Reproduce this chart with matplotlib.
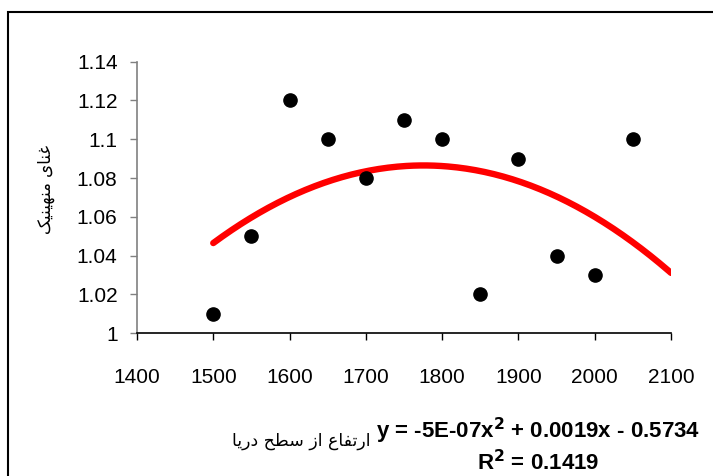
import numpy as np
import matplotlib.pyplot as plt
from matplotlib.patches import Rectangle

altitude = [1500, 1550, 1600, 1650, 1700, 1750, 1800, 1850, 1900, 1950, 2000, 2050]
richness = [1.01, 1.05, 1.12, 1.10, 1.08, 1.11, 1.10, 1.02, 1.09, 1.04, 1.03, 1.10]
x_ticks = [1400, 1500, 1600, 1700, 1800, 1900, 2000, 2100]
y_ticks = [1, 1.02, 1.04, 1.06, 1.08, 1.1, 1.12, 1.14]
y_tick_labels = ["1", "1.02", "1.04", "1.06", "1.08", "1.1", "1.12", "1.14"]
x_title = "ارتفاع از سطح دریا"
y_title = "غنای منهینیک"
equation = "y = -5E-07x$^\\mathbf{2}$ + 0.0019x - 0.5734\nR$^\\mathbf{2}$ = 0.1419"

# matplotlib has no arabic shaping, so pick presentation forms by hand
# forms: isolated, final, initial, medial (None = does not join forward)
FORMS = {
    "ا": ("\uFE8D", "\uFE8E", None, None),
    "د": ("\uFEA9", "\uFEAA", None, None),
    "ر": ("\uFEAD", "\uFEAE", None, None),
    "ز": ("\uFEAF", "\uFEB0", None, None),
    "ت": ("\uFE95", "\uFE96", "\uFE97", "\uFE98"),
    "ح": ("\uFEA1", "\uFEA2", "\uFEA3", "\uFEA4"),
    "س": ("\uFEB1", "\uFEB2", "\uFEB3", "\uFEB4"),
    "ط": ("\uFEC1", "\uFEC2", "\uFEC3", "\uFEC4"),
    "ع": ("\uFEC9", "\uFECA", "\uFECB", "\uFECC"),
    "غ": ("\uFECD", "\uFECE", "\uFECF", "\uFED0"),
    "ف": ("\uFED1", "\uFED2", "\uFED3", "\uFED4"),
    "م": ("\uFEE1", "\uFEE2", "\uFEE3", "\uFEE4"),
    "ن": ("\uFEE5", "\uFEE6", "\uFEE7", "\uFEE8"),
    "ه": ("\uFEE9", "\uFEEA", "\uFEEB", "\uFEEC"),
    "ی": ("\uFBFC", "\uFBFD", "\uFBFE", "\uFBFF"),
    "ک": ("\uFB8E", "\uFB8F", "\uFB90", "\uFB91"),
}


def shape(text):
    out = []
    for i, ch in enumerate(text):
        if ch not in FORMS:
            out.append(ch)
            continue
        prev = text[i - 1] if i > 0 else " "
        nxt = text[i + 1] if i + 1 < len(text) else " "
        j_prev = prev in FORMS and FORMS[prev][2] is not None
        j_next = nxt in FORMS and FORMS[ch][2] is not None
        iso, fin, ini, med = FORMS[ch]
        if j_prev and j_next:
            out.append(med)
        elif j_prev:
            out.append(fin)
        elif j_next:
            out.append(ini)
        else:
            out.append(iso)
    return "".join(out)[::-1]


tick_font = "Liberation Sans"

fig = plt.figure(figsize=(7.13, 4.76), dpi=100)
ax = fig.add_axes([0.1921, 0.2998, 0.749, 0.5706])

coef = np.polyfit(altitude, richness, 2)
xs = np.linspace(1500, 2100, 200)
ax.plot(xs, np.polyval(coef, xs), color="#ff0000", lw=4.6, solid_capstyle="round", zorder=2)
ax.plot(altitude, richness, "o", color="black", ms=9.5, zorder=3, clip_on=False)

ax.set_xlim(1400, 2100)
ax.set_ylim(1, 1.14)
ax.set_xticks(x_ticks)
ax.set_xticklabels([str(v) for v in x_ticks], fontname=tick_font, fontsize=15)
ax.set_yticks(y_ticks)
ax.set_yticklabels(y_tick_labels, fontname=tick_font, fontsize=15)
ax.tick_params(axis="x", length=5, width=1, pad=20, color="black")
ax.tick_params(axis="y", length=5, width=1, pad=9, color="#808080")

ax.spines["top"].set_visible(False)
ax.spines["right"].set_visible(False)
ax.spines["left"].set_color("#808080")
ax.spines["left"].set_linewidth(1.2)
ax.spines["bottom"].set_linewidth(1.2)

fig.text(0.0645, 0.603, shape(y_title), rotation=90, ha="center", va="center",
         fontsize=12, family="DejaVu Sans")
fig.text(0.422, 0.074, shape(x_title), ha="center", va="center",
         fontsize=12.5, family="DejaVu Sans")
fig.text(0.755, 0.064, equation, ha="center", va="center", fontsize=16,
         fontweight="bold", family="Liberation Sans", linespacing=1.2)

fig.patches.append(Rectangle((8 / 713, -0.1), 1.2, 1 - 12 / 476 + 0.1, transform=fig.transFigure,
                             fill=False, edgecolor="black", lw=1.5))

fig.savefig("out.png", dpi=100)
